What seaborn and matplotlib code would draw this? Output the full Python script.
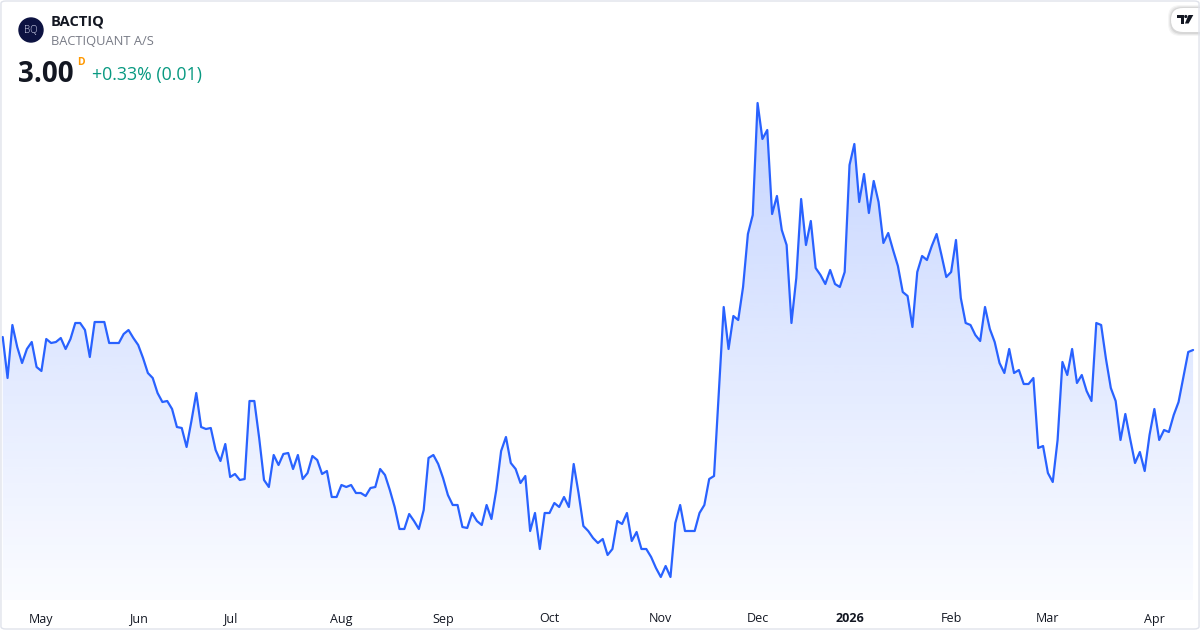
import numpy as np
import pandas as pd
import seaborn as sns
import matplotlib
matplotlib.use("Agg")
from matplotlib import pyplot as plt
from matplotlib.patches import FancyBboxPatch, Circle, Polygon
from matplotlib.transforms import IdentityTransform
import matplotlib.colors as mcolors

# daily closes (DKK), one per trading day
close = [
    3.065, 2.86, 3.125, 3.015, 2.935, 3.005, 3.04, 2.915, 2.895, 3.055,
    3.035, 3.04, 3.06, 3.005, 3.055, 3.135, 3.135, 3.10, 2.965, 3.14,
    3.14, 3.14, 3.035, 3.035, 3.035, 3.08, 3.10, 3.06, 3.025, 2.96,
    2.885, 2.86, 2.785, 2.74, 2.745, 2.705, 2.615, 2.61, 2.515, 2.645,
    2.785, 2.615, 2.605, 2.61, 2.50, 2.445, 2.53, 2.365, 2.38, 2.35,
    2.355, 2.745, 2.745, 2.56, 2.35, 2.315, 2.475, 2.425, 2.48, 2.485,
    2.405, 2.475, 2.355, 2.385, 2.47, 2.45, 2.38, 2.395, 2.265, 2.265,
    2.325, 2.315, 2.325, 2.285, 2.285, 2.27, 2.31, 2.315, 2.405, 2.375,
    2.30, 2.215, 2.105, 2.105, 2.18, 2.145, 2.105, 2.20, 2.46, 2.475,
    2.43, 2.36, 2.275, 2.225, 2.225, 2.115, 2.11, 2.185, 2.145, 2.125,
    2.225, 2.155, 2.30, 2.495, 2.565, 2.435, 2.405, 2.335, 2.37, 2.095,
    2.185, 2.005, 2.185, 2.185, 2.235, 2.215, 2.265, 2.215, 2.43, 2.285,
    2.12, 2.095, 2.06, 2.035, 2.055, 1.975, 2.005, 2.145, 2.13, 2.185,
    2.045, 2.09, 2.005, 2.005, 1.965, 1.91, 1.865, 1.92, 1.865, 2.135,
    2.225, 2.095, 2.095, 2.095, 2.185, 2.225, 2.355, 2.37, 2.79, 3.215,
    3.005, 3.17, 3.15, 3.315, 3.58, 3.675, 4.235, 4.055, 4.10, 3.68,
    3.77, 3.60, 3.525, 3.135, 3.36, 3.755, 3.525, 3.645, 3.41, 3.375,
    3.33, 3.40, 3.33, 3.315, 3.39, 3.925, 4.03, 3.74, 3.88, 3.685,
    3.845, 3.74, 3.535, 3.585, 3.50, 3.42, 3.29, 3.27, 3.115, 3.39,
    3.47, 3.45, 3.52, 3.58, 3.475, 3.365, 3.39, 3.55, 3.26, 3.135,
    3.125, 3.075, 3.045, 3.215, 3.105, 3.04, 2.935, 2.885, 3.005, 2.885,
    2.90, 2.83, 2.83, 2.86, 2.51, 2.52, 2.385, 2.34, 2.55, 2.94,
    2.875, 3.005, 2.835, 2.875, 2.795, 2.745, 3.135, 3.125, 2.955, 2.81,
    2.745, 2.55, 2.68, 2.555, 2.435, 2.49, 2.395, 2.575, 2.705, 2.55,
    2.60, 2.59, 2.675, 2.74, 2.865, 2.99, 3.00,
]

# exchange holidays (Copenhagen) in the period
holidays = [
    "2025-04-17", "2025-04-18", "2025-04-21", "2025-05-29", "2025-05-30",
    "2025-06-05", "2025-06-09", "2025-12-24", "2025-12-25", "2025-12-26",
    "2025-12-31", "2026-01-01", "2026-04-02", "2026-04-03", "2026-04-06",
]
start_date = "2025-04-16"

dates = pd.bdate_range(start=start_date, periods=len(close), freq="C", holidays=holidays)
df = pd.DataFrame({"bar": np.arange(len(close)), "close": close, "date": dates})

sns.set_theme(style="white")
plt.rcParams["font.family"] = ["Open Sans", "DejaVu Sans"]

W, H = 1200, 630
fig = plt.figure(figsize=(12, 6.3), dpi=100)
fig.patch.set_facecolor("white")
ax = fig.add_axes([0, 30 / H, 1, 600 / H])

line_color = "#2962FF"
ymin, ymax = 1.75, 4.75
xmin, xmax = -0.56, 247.43

sns.lineplot(data=df, x="bar", y="close", ax=ax, color=line_color, linewidth=1.6, zorder=3)

# gradient area under the line
poly = ax.fill_between(df["bar"], df["close"], ymin, color="none", lw=0)
rgba = np.zeros((256, 1, 4))
rgba[..., :3] = mcolors.to_rgb(line_color)
rgba[..., 3] = np.linspace(0.32, 0.02, 256)[:, None]
im = ax.imshow(rgba, extent=[xmin, xmax, ymin, ymax], origin="upper", aspect="auto", zorder=1)
im.set_clip_path(poly.get_paths()[0], transform=ax.transData)

ax.set_xlim(xmin, xmax)
ax.set_ylim(ymin, ymax)

# month labels at first trading day of each month
firsts = df.groupby(df["date"].dt.to_period("M"))["bar"].min().iloc[1:]
labels = []
for per in firsts.index:
    labels.append(str(per.year) if per.month == 1 else per.strftime("%b"))
ax.set_xticks(firsts.values)
ax.set_xticklabels(labels)
ax.tick_params(axis="x", length=0, pad=9, labelsize=9, labelcolor="#131722")
for t in ax.get_xticklabels():
    if t.get_text().isdigit():
        t.set_fontweight("bold")
ax.set_yticks([])
ax.set_xlabel("")
ax.set_ylabel("")
for s in ax.spines.values():
    s.set_visible(False)


def fx(x):
    return x / W


def fy(y):
    return 1 - y / H


def pix(pts):
    # pixel coords (origin top-left) -> display coords
    return [(x, H - y) for x, y in pts]


# header
fig.patches.append(Circle((31, H - 30), 12, transform=IdentityTransform(), color="#0c1241", zorder=5))
fig.text(fx(31), fy(30.5), "BQ", color="#d8dbf2", fontsize=7, ha="center", va="center",
         fontweight="light", zorder=6)
fig.text(fx(51), fy(26), "BACTIQ", fontsize=10.5, fontweight="bold", color="#131722", va="baseline")
fig.text(fx(51), fy(45), "BACTIQUANT A/S", fontsize=9.3, color="#787b86", va="baseline")
fig.text(fx(18), fy(82), "3.00", fontsize=20, fontweight="bold", color="#131722", va="baseline")
fig.text(fx(77), fy(65), "D", fontsize=7.5, fontweight="bold", color="#ff9800", va="baseline")
fig.text(fx(92), fy(80), "+0.33% (0.01)", fontsize=12.8, color="#089981", va="baseline")

# TradingView badge: white pill with a soft shadow and the logo glyph
for k, a in ((3, 0.04), (2, 0.05), (1, 0.07)):
    fig.patches.append(FancyBboxPatch((1171 - k, H - 33 - k), 40 + 2 * k, 25 + 2 * k,
                                      boxstyle="round,pad=0,rounding_size=12",
                                      transform=IdentityTransform(), fc="black", ec="none",
                                      alpha=a, zorder=6))
fig.patches.append(FancyBboxPatch((1171, H - 32), 40, 24, boxstyle="round,pad=0,rounding_size=12",
                                  transform=IdentityTransform(), fc="white", ec="none", zorder=7))
glyph = "#131722"
fig.patches.append(Polygon(pix([(1176.7, 15), (1184, 15), (1184, 23.5), (1180.7, 23.5),
                                (1180.7, 18), (1176.7, 18)]),
                           closed=True, transform=IdentityTransform(), fc=glyph, ec="none", zorder=8))
fig.patches.append(Circle((1185.8, H - 16.5), 1.6, transform=IdentityTransform(), fc=glyph, ec="none", zorder=8))
fig.patches.append(Polygon(pix([(1188.5, 15), (1193.3, 15), (1188.6, 23.5), (1184.9, 23.5)]),
                           closed=True, transform=IdentityTransform(), fc=glyph, ec="none", zorder=8))

# card border
fig.patches.append(FancyBboxPatch((0.0008, 0.0016), 0.9984, 0.9968,
                                  boxstyle="round,pad=0,rounding_size=0.004",
                                  transform=fig.transFigure, fill=False, ec="#e0e3eb", lw=1, zorder=10))

fig.savefig("out.png", dpi=100)
